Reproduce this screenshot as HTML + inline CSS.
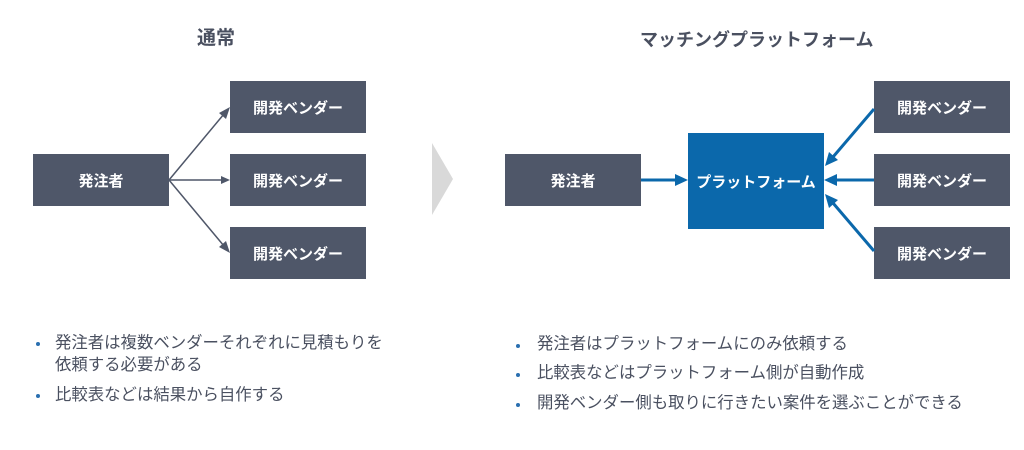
<!DOCTYPE html>
<html><head><meta charset="utf-8"><style>
body{margin:0;width:1024px;height:450px;background:#fff;position:relative;overflow:hidden;font-family:"Liberation Sans","Noto Sans CJK JP",sans-serif;}
.b{position:absolute;background:#4f5769;color:#fff;font-weight:bold;font-size:15px;display:flex;align-items:center;justify-content:center;}
.p{background:#0b68ab;}
.t{position:absolute;color:#4a5060;font-weight:bold;font-size:18px;white-space:nowrap;}
.l{position:absolute;color:#4a5060;font-size:16.4px;line-height:22px;white-space:nowrap;}
.d{position:absolute;width:4px;height:4px;border-radius:2px;background:#2a6fb0;}
</style></head><body>
<div class="t" style="left:197px;top:23px;font-size:19px">通常</div>
<div class="t" style="left:640px;top:26px">マッチングプラットフォーム</div>

<div class="b" style="left:33px;top:154px;width:136px;height:52px">発注者</div>
<div class="b" style="left:230px;top:81px;width:136px;height:52px">開発ベンダー</div>
<div class="b" style="left:230px;top:154px;width:136px;height:52px">開発ベンダー</div>
<div class="b" style="left:230px;top:227px;width:136px;height:52px">開発ベンダー</div>

<div class="b" style="left:505px;top:154px;width:136px;height:52px">発注者</div>
<div class="b p" style="left:688px;top:133px;width:136px;height:96px">プラットフォーム</div>
<div class="b" style="left:874px;top:81px;width:136px;height:52px">開発ベンダー</div>
<div class="b" style="left:874px;top:154px;width:136px;height:52px">開発ベンダー</div>
<div class="b" style="left:874px;top:227px;width:136px;height:52px">開発ベンダー</div>

<svg width="1024" height="450" style="position:absolute;left:0;top:0">
<polygon points="432,143 453,179 432,215" fill="#d9d9d9"/>
<g stroke="#4f5769" stroke-width="1.5" fill="none">
<line x1="169" y1="180" x2="224" y2="114"/>
<line x1="169" y1="180" x2="223" y2="180"/>
<line x1="169" y1="180" x2="224" y2="246"/>
</g>
<g fill="#4f5769">
<polygon points="230,107 226,119 219,113"/>
<polygon points="230,180 221,176 221,184"/>
<polygon points="230,253 219,247 226,241"/>
</g>
<g stroke="#0b68ab" stroke-width="3" fill="none">
<line x1="641" y1="180" x2="676" y2="180"/>
<line x1="874" y1="180" x2="836" y2="180"/>
<line x1="874" y1="109" x2="833" y2="157"/>
<line x1="874" y1="251" x2="833" y2="203"/>
</g>
<g fill="#0b68ab">
<polygon points="688,180 675,174 675,186"/>
<polygon points="824,180 837,174 837,186"/>
<polygon points="825,166 829,152 838,160"/>
<polygon points="825,194 838,200 829,208"/>
</g>
</svg>

<div class="d" style="left:36px;top:342px"></div>
<div class="l" style="left:55px;top:332px">発注者は複数ベンダーそれぞれに見積もりを<br>依頼する必要がある</div>
<div class="d" style="left:36px;top:394px"></div>
<div class="l" style="left:55px;top:384px">比較表などは結果から自作する</div>

<div class="d" style="left:516px;top:344px"></div>
<div class="l" style="left:537px;top:333px">発注者はプラットフォームにのみ依頼する</div>
<div class="d" style="left:516px;top:373px"></div>
<div class="l" style="left:537px;top:362px">比較表などはプラットフォーム側が自動作成</div>
<div class="d" style="left:516px;top:403px"></div>
<div class="l" style="left:537px;top:392px">開発ベンダー側も取りに行きたい案件を選ぶことができる</div>
</body></html>
